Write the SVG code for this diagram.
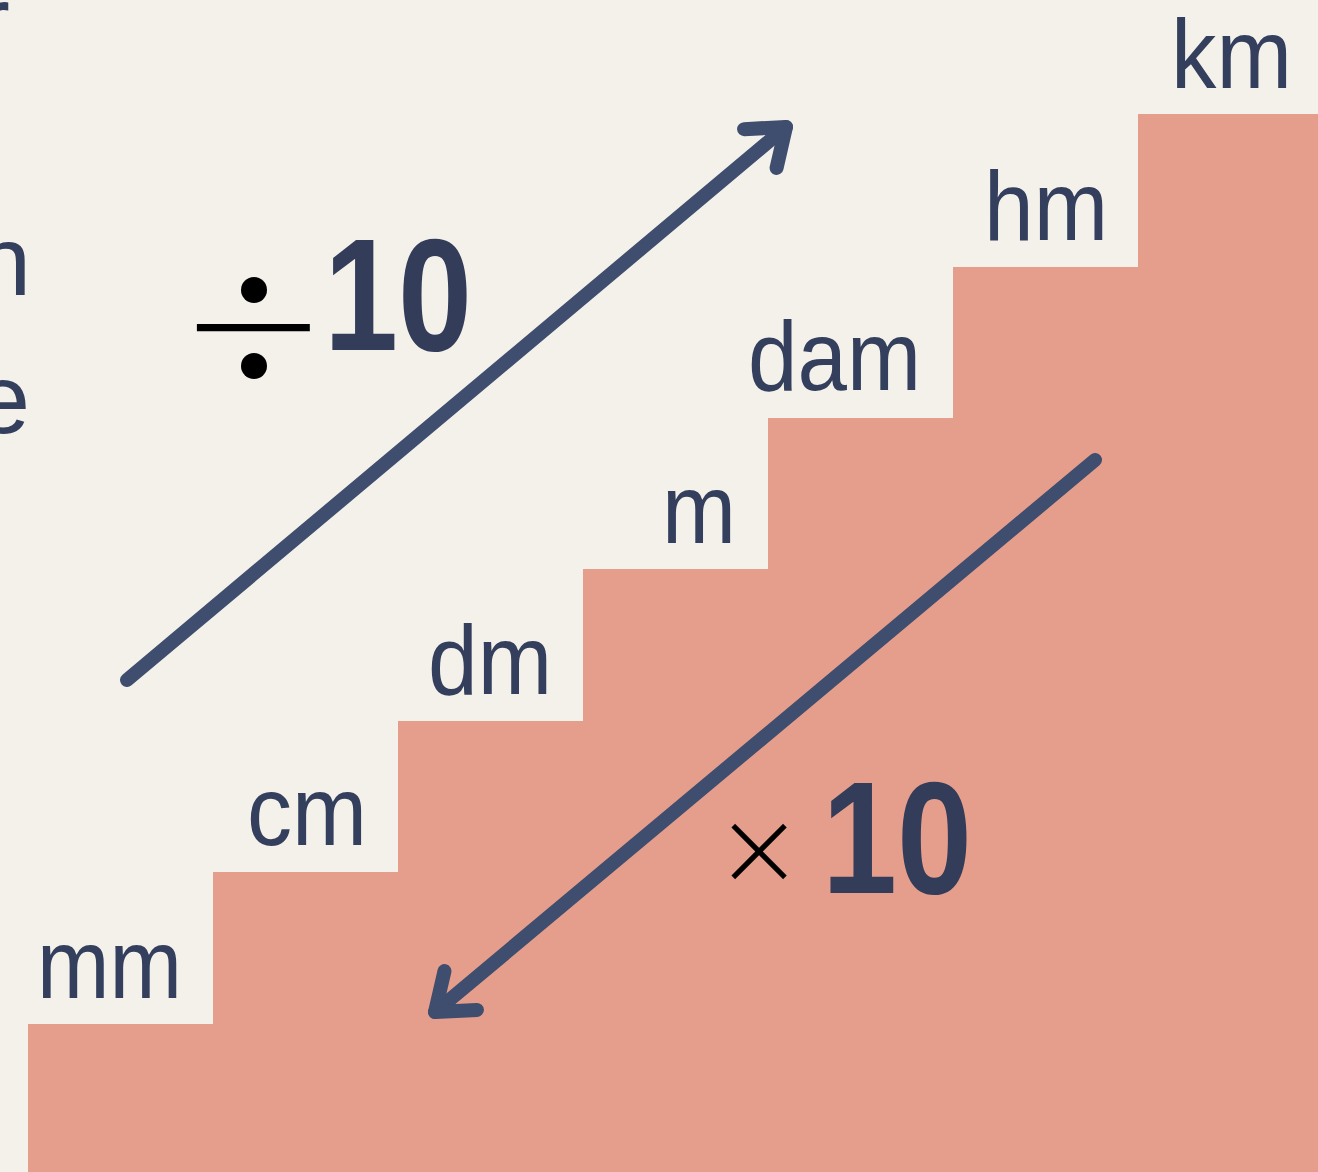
<svg xmlns="http://www.w3.org/2000/svg" width="1318" height="1172" viewBox="0 0 1318 1172">
  <style>
    .lbl { font-family: "Liberation Sans", Arial, sans-serif; font-size: 98px; fill: #333f5c; }
    .num { font-family: "Liberation Sans", Arial, sans-serif; font-weight: bold; font-size: 160px; fill: #333d5a; }
    .op { font-family: "DejaVu Sans", sans-serif; font-weight: 200; fill: #000000; }
    .arrow { fill: none; stroke: #3f4d6e; stroke-width: 14; stroke-linecap: round; stroke-linejoin: round; }
  </style>
  <defs>
    <marker id="head" markerUnits="userSpaceOnUse" orient="auto" markerWidth="80" markerHeight="80" refX="0" refY="0" viewBox="-60 -40 80 80" overflow="visible">
      <path d="M -33.5 -25.3 L 0 0 L -33.5 25.3" fill="none" stroke="#3f4d6e" stroke-width="14" stroke-linecap="round" stroke-linejoin="round"/>
    </marker>
  </defs>
  <rect x="0" y="0" width="1318" height="1172" fill="#f4f1ea"/>
  <g id="stairs">
    <path d="M28 1172 L28 1024 L213 1024 L213 872 L398 872 L398 721 L583 721 L583 569 L768 569 L768 418 L953 418 L953 267 L1138 267 L1138 114 L1318 114 L1318 1172 Z" fill="#e59e8c"/>
  </g>
  <g id="edge-text">
    <text class="lbl" x="10" y="55" text-anchor="end">r</text>
    <text class="lbl" x="31" y="295" text-anchor="end">n</text>
    <text class="lbl" x="30" y="433" text-anchor="end">e</text>
  </g>
  <g id="node-mm"><text class="lbl" x="37" y="998" textLength="145" lengthAdjust="spacingAndGlyphs">mm</text></g>
  <g id="node-cm"><text class="lbl" x="247" y="845" textLength="120" lengthAdjust="spacingAndGlyphs">cm</text></g>
  <g id="node-dm"><text class="lbl" x="428" y="694" textLength="124" lengthAdjust="spacingAndGlyphs">dm</text></g>
  <g id="node-m"><text class="lbl" x="662" y="543" textLength="74" lengthAdjust="spacingAndGlyphs">m</text></g>
  <g id="node-dam"><text class="lbl" x="748" y="390" textLength="173" lengthAdjust="spacingAndGlyphs">dam</text></g>
  <g id="node-hm"><text class="lbl" x="984" y="240" textLength="124" lengthAdjust="spacingAndGlyphs">hm</text></g>
  <g id="node-km"><text class="lbl" x="1171" y="88" textLength="121" lengthAdjust="spacingAndGlyphs">km</text></g>
  <g id="connectors">
    <path class="arrow" d="M127 680 L786 127" marker-end="url(#head)"/>
    <path class="arrow" d="M1095 460 L435 1012" marker-end="url(#head)"/>
  </g>
  <g id="label-divide">
    <text class="op" x="178" y="384" font-size="180">÷</text>
    <circle cx="254" cy="290" r="13" fill="#000000"/>
    <circle cx="254" cy="366" r="13" fill="#000000"/>
    <text class="num" x="324" y="350" textLength="148" lengthAdjust="spacingAndGlyphs">10</text>
  </g>
  <g id="label-multiply">
    <text class="op" x="759" y="885" font-size="107" text-anchor="middle">×</text>
    <text class="num" x="822" y="893" textLength="150" lengthAdjust="spacingAndGlyphs">10</text>
  </g>
</svg>
